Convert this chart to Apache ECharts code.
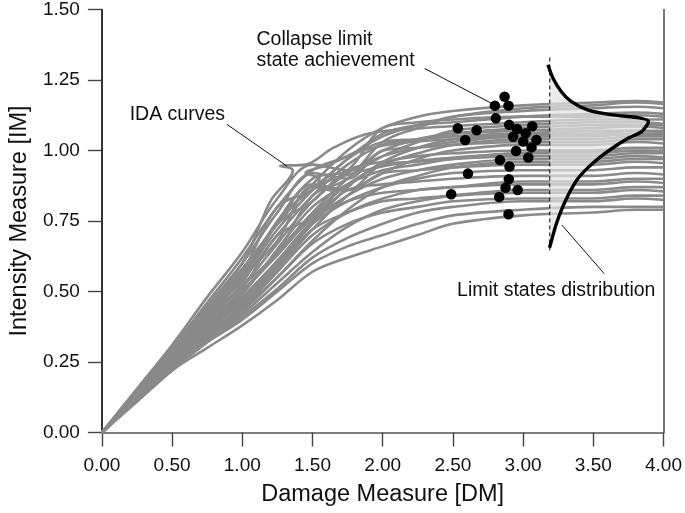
<!DOCTYPE html>
<html>
<head>
<meta charset="utf-8">
<script src="https://cdn.jsdelivr.net/npm/echarts@6/dist/echarts.min.js"></script>
<style>
html,body{margin:0;padding:0;background:#fff;}
#chart{width:685px;height:513px;}
</style>
</head>
<body>
<div id="chart"></div>
<script>
// ---- axes ----
const xTicks = [0, 0.5, 1, 1.5, 2, 2.5, 3, 3.5, 4];
const yTicks = [0, 0.25, 0.5, 0.75, 1, 1.25, 1.5];
const xTitle = 'Damage Measure [DM]';
const yTitle = 'Intensity Measure [IM]';

// ---- IDA curves (common x grid) ----
const idaX = [0, 0.25, 0.5, 0.75, 1.0, 1.25, 1.5, 1.75, 2.0, 2.25, 2.5, 3.0, 3.5, 3.8, 4.0];
const idaY = [
  [0,0.145,0.29,0.43,0.58,0.74,0.88,1.00,1.08,1.12,1.14,1.16,1.17,1.175,1.17],
  [0,0.15,0.30,0.46,0.62,0.80,0.93,0.98,1.05,1.09,1.12,1.15,1.16,1.17,1.165],
  [0,0.135,0.27,0.40,0.52,0.64,0.84,0.90,1.03,1.08,1.12,1.14,1.15,1.155,1.15],
  [0,0.14,0.28,0.42,0.55,0.72,0.86,0.97,1.06,1.09,1.10,1.12,1.13,1.135,1.13],
  [0,0.13,0.26,0.38,0.50,0.64,0.78,0.90,0.98,1.03,1.07,1.09,1.10,1.10,1.095],
  [0,0.155,0.31,0.48,0.64,0.83,0.95,0.93,1.00,1.04,1.06,1.08,1.09,1.09,1.09],
  [0,0.135,0.27,0.41,0.54,0.70,0.84,0.95,1.02,1.04,1.06,1.07,1.08,1.085,1.08],
  [0,0.125,0.25,0.36,0.47,0.60,0.74,0.87,0.96,1.01,1.04,1.06,1.07,1.07,1.065],
  [0,0.145,0.29,0.43,0.57,0.80,0.86,0.97,1.03,1.04,1.05,1.06,1.06,1.07,1.07],
  [0,0.14,0.28,0.40,0.52,0.67,0.82,0.92,0.98,1.01,1.03,1.05,1.05,1.06,1.055],
  [0,0.13,0.26,0.38,0.50,0.63,0.77,0.88,0.95,0.99,1.02,1.04,1.04,1.05,1.05],
  [0,0.15,0.30,0.45,0.60,0.78,0.92,0.90,1.00,1.01,1.02,1.03,1.03,1.04,1.04],
  [0,0.12,0.24,0.35,0.45,0.58,0.72,0.84,0.92,0.97,1.00,1.02,1.02,1.03,1.025],
  [0,0.135,0.27,0.40,0.53,0.74,0.82,0.93,0.96,0.98,0.99,1.00,1.00,1.01,1.01],
  [0,0.125,0.25,0.37,0.49,0.65,0.80,0.88,0.93,0.95,0.97,0.99,0.99,1.00,0.995],
  [0,0.145,0.29,0.44,0.58,0.74,0.88,0.86,0.95,0.96,0.97,0.98,0.98,0.99,0.99],
  [0,0.13,0.26,0.37,0.48,0.61,0.75,0.84,0.90,0.93,0.95,0.97,0.97,0.98,0.975],
  [0,0.115,0.23,0.33,0.43,0.55,0.68,0.79,0.87,0.91,0.94,0.96,0.96,0.97,0.97],
  [0,0.14,0.28,0.42,0.55,0.68,0.87,0.86,0.92,0.93,0.94,0.95,0.95,0.96,0.955],
  [0,0.125,0.25,0.36,0.47,0.60,0.74,0.82,0.87,0.90,0.92,0.93,0.93,0.94,0.94],
  [0,0.135,0.27,0.39,0.51,0.70,0.76,0.86,0.88,0.89,0.90,0.91,0.91,0.92,0.915],
  [0,0.12,0.24,0.34,0.44,0.57,0.70,0.78,0.83,0.86,0.87,0.89,0.89,0.90,0.90],
  [0,0.13,0.26,0.38,0.50,0.63,0.76,0.82,0.85,0.86,0.87,0.88,0.88,0.89,0.885],
  [0,0.115,0.23,0.33,0.42,0.53,0.64,0.73,0.79,0.82,0.84,0.86,0.86,0.87,0.87],
  [0,0.125,0.25,0.36,0.46,0.59,0.72,0.78,0.82,0.83,0.84,0.85,0.85,0.86,0.855],
  [0,0.12,0.24,0.34,0.44,0.55,0.67,0.74,0.78,0.80,0.82,0.83,0.83,0.84,0.84],
  [0,0.11,0.22,0.32,0.41,0.51,0.62,0.69,0.74,0.78,0.80,0.82,0.82,0.83,0.825],
  [0,0.115,0.23,0.32,0.40,0.50,0.60,0.66,0.70,0.74,0.77,0.79,0.80,0.80,0.80],
  [0,0.11,0.22,0.30,0.38,0.47,0.57,0.62,0.66,0.70,0.74,0.77,0.78,0.79,0.79],
  [0,0.14,0.28,0.42,0.56,0.75,0.90,0.93,1.08,1.10,1.11,1.12,1.12,1.125,1.12]
];
// IDA curves with snap-back loops (explicit x,y pairs)
const idaLoop1 = [[0,0],[0.5,0.28],[1.0,0.60],[1.2,0.82],[1.36,0.93],[1.27,0.945],[1.45,0.95],[1.65,1.01],[1.9,1.06],[2.3,1.08],[3.0,1.10],[3.5,1.11],[4.0,1.11]];
const idaLoop2 = [[0,0],[0.5,0.27],[1.0,0.55],[1.3,0.78],[1.55,0.90],[1.45,0.92],[1.62,0.95],[1.85,1.00],[2.2,1.03],[3.0,1.05],[4.0,1.06]];
const idaLoop3 = [[0,0],[0.5,0.26],[1.0,0.50],[1.4,0.72],[1.65,0.85],[1.55,0.87],[1.8,0.92],[2.2,0.96],[3.0,0.99],[4.0,1.00]];

// ---- collapse points ----
const collapseX = [2.868,2.799,2.896,2.806,2.535,2.669,2.901,2.957,3.065,3.018,2.929,2.588,3.001,3.095,3.060,2.950,3.037,2.835,2.903,2.607,2.898,2.875,2.961,2.488,2.830,2.896];
const collapseY = [1.191,1.159,1.159,1.114,1.079,1.072,1.091,1.076,1.086,1.061,1.049,1.037,1.032,1.037,1.011,0.998,0.975,0.966,0.943,0.918,0.898,0.868,0.860,0.845,0.835,0.774];

// ---- limit state distribution (sideways density) ----
const distX = [3.177,3.213,3.271,3.341,3.459,3.623,3.811,3.893,3.846,3.754,3.656,3.557,3.466,3.388,3.325,3.276,3.234,3.206,3.188];
const distY = [1.304,1.256,1.209,1.174,1.144,1.127,1.117,1.103,1.068,1.045,1.015,0.980,0.941,0.899,0.846,0.793,0.736,0.687,0.655];
const baseX = 3.19;
const baseTop = 1.33;
const baseBottom = 0.636;

// ---- annotations ----
const notes = [
  {text: 'Collapse limit', x: 1.101, y: 1.393},
  {text: 'state achievement', x: 1.101, y: 1.318},
  {text: 'IDA curves', x: 0.198, y: 1.127},
  {text: 'Limit states distribution', x: 2.530, y: 0.503}
];
const leaders = [
  [[2.298,1.291],[2.776,1.167]],
  [[0.890,1.093],[1.320,0.944]],
  [[3.276,0.736],[3.578,0.563]]
];

const FONT = "'Liberation Sans', Arial, Helvetica, sans-serif";
const chart = echarts.init(document.getElementById('chart'), null, {renderer: 'canvas'});

const series = [];
const curveStyle = {color: '#8a8a8a', width: 2.6};
idaY.forEach((ys, i) => {
  series.push({
    type: 'line', name: 'ida' + i, silent: true, showSymbol: false, smooth: 0.35,
    data: idaX.map((x, k) => [x, ys[k]]), lineStyle: curveStyle, z: 2, animation: false
  });
});
[idaLoop1, idaLoop2, idaLoop3].forEach((pts, i) => {
  series.push({
    type: 'line', name: 'loop' + i, silent: true, showSymbol: false, smooth: 0.35,
    data: pts, lineStyle: curveStyle, z: 2, animation: false
  });
});
// shaded distribution area
const distPts = distX.map((x, i) => [x, distY[i]]);
series.push({
  type: 'custom', silent: true, z: 3, animation: false,
  data: [0],
  renderItem: function (params, api) {
    const pts = distPts.map(p => api.coord(p));
    pts.push(api.coord([baseX, distY[distY.length - 1]]));
    pts.push(api.coord([baseX, distY[0]]));
    return {type: 'polygon', shape: {points: pts}, style: {fill: 'rgba(226,226,226,0.7)', stroke: null}};
  }
});
// dashed base line
series.push({
  type: 'line', silent: true, showSymbol: false, z: 4, animation: false,
  data: [[baseX, baseTop], [baseX, baseBottom]],
  lineStyle: {color: '#000', width: 1, type: [4, 3]}
});
// distribution curve
series.push({
  type: 'line', silent: true, showSymbol: false, smooth: 0.3, z: 5, animation: false,
  data: distPts, lineStyle: {color: '#000', width: 3.4}
});
// leader lines
leaders.forEach(l => {
  series.push({
    type: 'line', silent: true, showSymbol: false, z: 5, animation: false,
    data: l, lineStyle: {color: '#111', width: 1}
  });
});
// collapse points
series.push({
  type: 'scatter', silent: true, z: 6, animation: false,
  data: collapseX.map((x, i) => [x, collapseY[i]]),
  symbol: 'circle', symbolSize: 10.5,
  itemStyle: {color: '#000', opacity: 1}
});

const option = {
  backgroundColor: '#fff',
  animation: false,
  textStyle: {fontFamily: FONT},
  grid: {left: 98.5, right: 18, top: 7.5, bottom: 80.5, containLabel: false},
  xAxis: {
    type: 'value', min: xTicks[0], max: xTicks[xTicks.length - 1], interval: 0.5,
    name: xTitle, nameLocation: 'middle', nameGap: 50,
    nameTextStyle: {fontSize: 23.5, color: '#111', fontFamily: FONT},
    axisLine: {show: true, onZero: false, lineStyle: {color: '#555', width: 1.6}},
    axisTick: {show: true, length: 14, lineStyle: {color: '#444', width: 1.4}},
    axisLabel: {fontSize: 19, color: '#111', margin: 24, fontFamily: FONT, formatter: v => v.toFixed(2)},
    splitLine: {show: false}
  },
  yAxis: [{
    type: 'value', min: yTicks[0], max: yTicks[yTicks.length - 1], interval: 0.25,
    name: yTitle, nameLocation: 'middle', nameGap: 68, nameRotate: 90,
    nameTextStyle: {fontSize: 23.5, color: '#111', fontFamily: FONT},
    axisLine: {show: true, onZero: false, lineStyle: {color: '#000', width: 1.6}},
    axisTick: {show: true, length: 14, lineStyle: {color: '#444', width: 1.4}},
    axisLabel: {fontSize: 19, color: '#111', margin: 22, fontFamily: FONT, formatter: v => v.toFixed(2)},
    splitLine: {show: false}
  }, {
    type: 'value', position: 'right', min: yTicks[0], max: yTicks[yTicks.length - 1],
    axisLine: {show: true, onZero: false, lineStyle: {color: '#555', width: 1.6}},
    axisTick: {show: false}, axisLabel: {show: false}, splitLine: {show: false}
  }],
  series: series
};
chart.setOption(option);

const graphics = notes.map(n => {
  const p = chart.convertToPixel({gridIndex: 0}, [n.x, n.y]);
  return {
    type: 'text', x: p[0], y: p[1], silent: true, z: 10,
    style: {text: n.text, fill: '#111', font: '19.5px ' + FONT, textAlign: 'left', textVerticalAlign: 'middle'}
  };
});
chart.setOption({graphic: graphics});
</script>
</body>
</html>
